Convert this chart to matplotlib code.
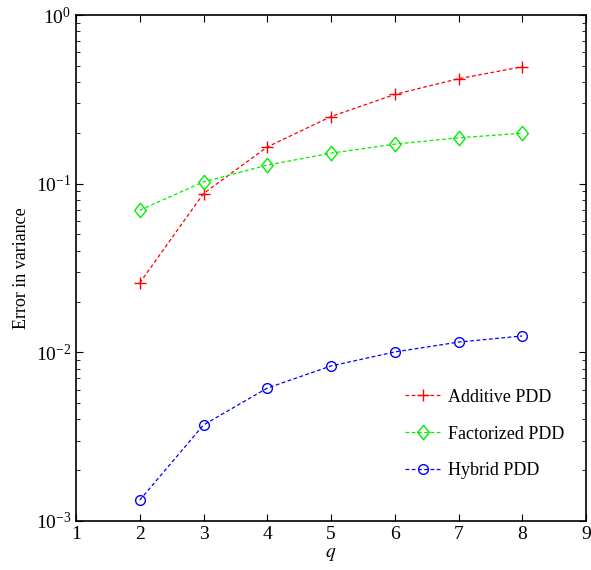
import matplotlib
matplotlib.use('Agg')
import matplotlib.pyplot as plt

q = [2, 3, 4, 5, 6, 7, 8]
additive = [0.0258, 0.0874, 0.165, 0.250, 0.338, 0.419, 0.493]
factorized = [0.0696, 0.1025, 0.1288, 0.1517, 0.1715, 0.187, 0.199]
hybrid = [0.00133, 0.00371, 0.00614, 0.0083, 0.01005, 0.0115, 0.0125]

plt.rcParams['font.family'] = ['Liberation Serif', 'DejaVu Serif']
plt.rcParams['mathtext.fontset'] = 'stix'

# diamond slightly taller than wide, like the original
diamond = [(0, 1), (0.8, 0), (0, -1), (-0.8, 0), (0, 1)]

fig = plt.figure(figsize=(5.91, 5.70), dpi=100)
ax = fig.add_axes([76/591, 1 - 521/570, (586-76)/591, (521-15)/570])

ax.plot(q, additive, '--', color='#ff0000', marker='+', markersize=8, mfc='none',
        lw=0.9, dashes=(3, 2), label='Additive PDD')
ax.plot(q, factorized, '--', color='#00ee00', marker=diamond, markersize=10.5, mfc='none',
        lw=0.9, dashes=(3, 2), label='Factorized PDD')
ax.plot(q, hybrid, '--', color='#0000ff', marker='o', markersize=7, mfc='none',
        lw=0.9, dashes=(3, 2), label='Hybrid PDD')

ax.set_yscale('log')
ax.set_xlim(1, 9)
ax.set_ylim(1e-3, 1)
ax.set_xticks(range(1, 10))
ax.tick_params(which='both', direction='in', top=True, right=True, labelsize=14)
ax.tick_params(which='major', length=5)
ax.tick_params(which='minor', length=3)
for s in ax.spines.values():
    s.set_linewidth(1.2)

ax.set_xlabel('$q$', fontsize=14, labelpad=2)
ax.set_ylabel('Error in variance', fontsize=13)
ax.legend(loc='lower right', frameon=False, fontsize=13, bbox_to_anchor=(0.99, 0.05),
          labelspacing=1.1, handlelength=2.0, handletextpad=0.4)

fig.savefig('out.png', dpi=100)
